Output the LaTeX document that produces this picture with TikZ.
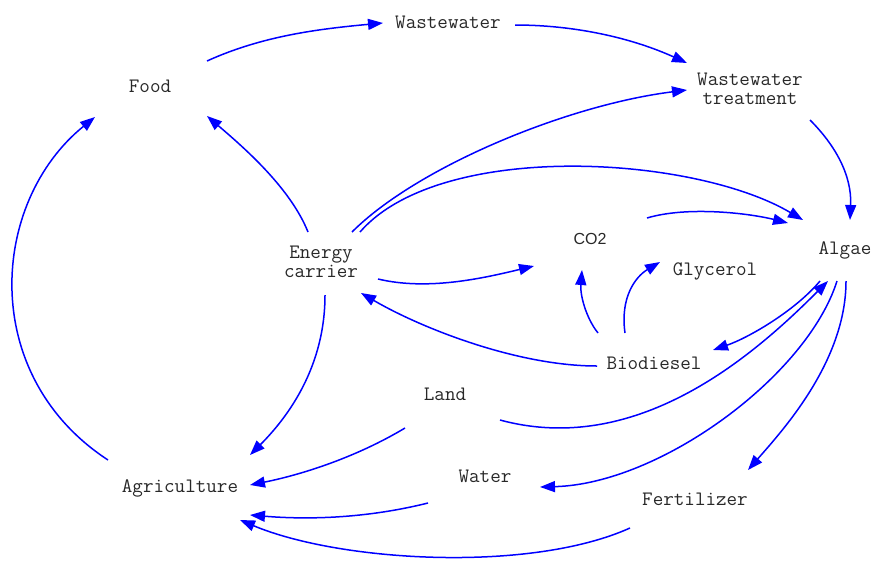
\documentclass[tikz,border=0pt]{standalone}
\usepackage{fontspec}
\newfontfamily\cosans{Liberation Sans}
\usetikzlibrary{arrows.meta,calc}
\definecolor{linkblue}{RGB}{0,0,255}
\definecolor{txt}{RGB}{40,40,40}
\tikzset{
  lbl/.style={inner sep=0pt, align=center, text=txt, font=\ttfamily\fontsize{20.5}{19}\selectfont},
  sanslbl/.style={inner sep=0pt, text=txt, font=\cosans\fontsize{16}{18}\selectfont},
  link/.style={draw=linkblue, line width=1.5pt, -{Triangle[length=15pt,width=11pt]}},
}
\begin{document}
\begin{tikzpicture}[x=1pt,y=-1pt]
\useasboundingbox (0,0) rectangle (874,560);
\node[lbl] (food) at (150,86) {Food};
\node[lbl] (ww) at (448,22) {Wastewater};
\node[lbl] (wwt) at (750,89) {Wastewater\\treatment};
\node[lbl] (energy) at (321,262) {Energy\\carrier};
\node[sanslbl] (co2) at (590,239) {CO2};
\node[lbl] (algae) at (845,250) {Algae};
\node[lbl] (gly) at (715,271) {Glycerol};
\node[lbl] (bio) at (654,363) {Biodiesel};
\node[lbl] (land) at (445,394) {Land};
\node[lbl] (water) at (485,476) {Water};
\node[lbl] (agri) at (180,488) {Agriculture};
\node[lbl] (fert) at (695,499) {Fertilizer};

% Food -> Wastewater
\draw[link] ($(food)+(57,-25)$) .. controls +(55,-25) and +(-65,6) .. ($(ww)+(-65,1)$);
% Wastewater -> Wastewater treatment
\draw[link] ($(ww)+(67,3)$) .. controls +(60,0) and +(-55,-25) .. ($(wwt)+(-63,-26)$);
% Wastewater treatment -> Algae
\draw[link] ($(wwt)+(60,31)$) .. controls +(25,25) and +(2,-45) .. ($(algae)+(5,-30)$);
% Energy carrier -> Wastewater treatment
\draw[link] ($(energy)+(31,-30)$) .. controls +(65,-65) and +(-120,15) .. ($(wwt)+(-63,1)$);
% Energy carrier -> Algae
\draw[link] ($(energy)+(39,-30)$) .. controls +(80,-92) and +(-110,-65) .. ($(algae)+(-42,-30)$);
% CO2 -> Algae
\draw[link] ($(co2)+(57,-21)$) .. controls +(40,-12) and +(-40,-10) .. ($(algae)+(-57,-27)$);
% Energy carrier -> Food
\draw[link] ($(energy)+(-13,-30)$) .. controls +(-18,-45) and +(35,30) .. ($(food)+(57,30)$);
% Energy carrier -> CO2
\draw[link] ($(energy)+(57,17)$) .. controls +(50,12) and +(-50,12) .. ($(co2)+(-56,27)$);
% Biodiesel -> CO2
\draw[link] ($(bio)+(-56,-30)$) .. controls +(-12,-15) and +(-2,25) .. ($(co2)+(-8,31)$);
% Biodiesel -> Glycerol
\draw[link] ($(bio)+(-29,-30)$) .. controls +(-5,-35) and +(-25,15) .. ($(gly)+(-55,-9)$);
% Biodiesel -> Energy carrier
\draw[link] ($(bio)+(-57,3)$) .. controls +(-80,0) and +(60,35) .. ($(energy)+(40,31)$);
% Algae -> Biodiesel
\draw[link] ($(algae)+(-25,31)$) .. controls +(-25,30) and +(35,-12) .. ($(bio)+(59,-13)$);
% Land -> Algae
\draw[link] ($(land)+(55,26)$) .. controls +(140,38) and +(-70,70) .. ($(algae)+(-17,31)$);
% Algae -> Water
\draw[link] ($(algae)+(-8,31)$) .. controls +(-30,95) and +(120,-3) .. ($(water)+(55,11)$);
% Algae -> Fertilizer
\draw[link] ($(algae)+(1,31)$) .. controls +(0,80) and +(35,-40) .. ($(fert)+(53,-29)$);
% Energy carrier -> Agriculture
\draw[link] ($(energy)+(4,33)$) .. controls +(0,70) and +(40,-40) .. ($(agri)+(70,-33)$);
% Land -> Agriculture
\draw[link] ($(land)+(-40,34)$) .. controls +(-50,30) and +(50,-10) .. ($(agri)+(70,-3)$);
% Water -> Agriculture
\draw[link] ($(water)+(-57,27)$) .. controls +(-60,15) and +(60,5) .. ($(agri)+(70,27)$);
% Fertilizer -> Agriculture
\draw[link] ($(fert)+(-65,29)$) .. controls +(-100,45) and +(100,42) .. ($(agri)+(60,32)$);
% Agriculture -> Food
\draw[link] ($(agri)+(-72,-28)$) .. controls +(-130,-85) and +(-105,85) .. ($(food)+(-55,31)$);
\end{tikzpicture}
\end{document}
